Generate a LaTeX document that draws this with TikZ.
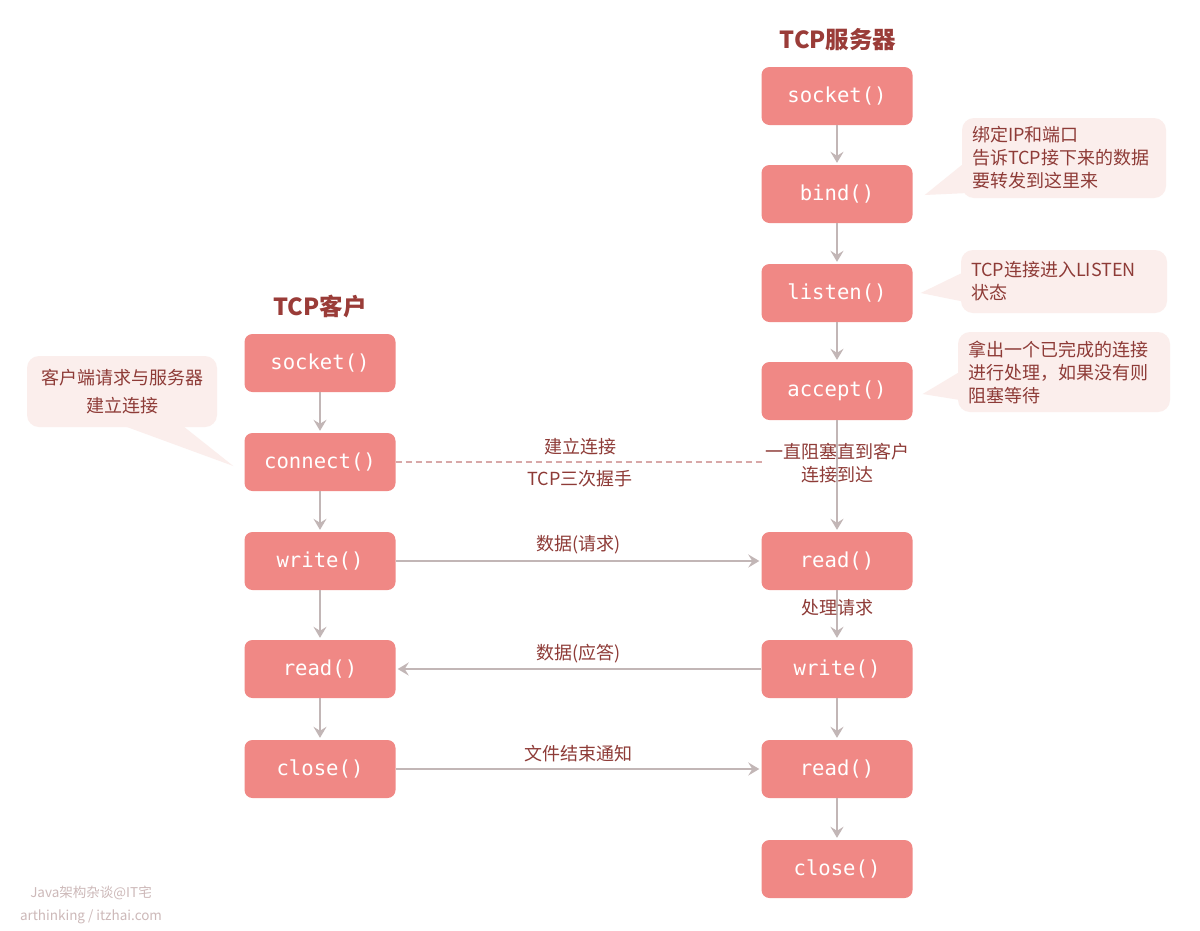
\documentclass[tikz,border=0pt]{standalone}
\usepackage{fontspec}
\setmainfont{Noto Sans CJK SC}
\newfontfamily\codefont{DejaVu Sans Mono}
\usetikzlibrary{arrows.meta,calc}

\definecolor{boxred}{HTML}{F08885}
\definecolor{notebg}{HTML}{FBEEEC}
\definecolor{textred}{HTML}{8E3B37}
\definecolor{titlered}{HTML}{9A3C38}
\definecolor{linegray}{HTML}{C2B6B6}
\definecolor{dashpink}{HTML}{D8A8A8}
\definecolor{markgray}{HTML}{CDB9B9}

\begin{document}
\begin{tikzpicture}[x=1pt,y=-1pt,
  call/.style={fill=boxred, rounded corners=8pt, minimum width=151pt,
    minimum height=58pt, inner sep=0pt, text=white,
    font=\codefont\fontsize{20.6}{24}\selectfont},
  title/.style={text=titlered, inner sep=0pt, font=\bfseries\fontsize{23.5}{26}\selectfont},
  note/.style={fill=notebg, rounded corners=12pt, text=textred, inner ysep=0pt,
    inner xsep=10pt, font=\fontsize{18}{23}\selectfont},
  tag/.style={text=textred, inner sep=0pt, font=\fontsize{18}{23}\selectfont},
  flow/.style={draw=linegray, line width=2pt, shorten >=2pt,
    -{Stealth[length=11pt,width=13pt,inset=4pt]}},
  handshake/.style={draw=dashpink, line width=1.2pt, dash pattern=on 6pt off 4pt},
  brand/.style={text=markgray, inner sep=0pt, font=\fontsize{13.5}{16}\selectfont}]
\useasboundingbox[fill=white] (0,0) rectangle (1200,930);

% titles
\node[title] (stitle) at (838,40) {TCP服务器};
\node[title] (ctitle) at (320,307) {TCP客户};

% server calls
\node[call] (ssocket) at (837,96) {socket()};
\node[call] (sbind) at (837,194) {bind()};
\node[call] (slisten) at (837,293) {listen()};
\node[call] (saccept) at (837,391) {accept()};
\node[call] (sread) at (837,561) {read()};
\node[call] (swrite) at (837,669) {write()};
\node[call] (sreadeof) at (837,769) {read()};
\node[call] (sclose) at (837,869) {close()};

% client calls
\node[call] (csocket) at (320,363) {socket()};
\node[call] (cconnect) at (320,462) {connect()};
\node[call] (cwrite) at (320,561) {write()};
\node[call] (cread) at (320,669) {read()};
\node[call] (cclose) at (320,769) {close()};

% notes
\node[note, text width=184pt, minimum height=80pt, align=left] (bindnote) at (1064,158)
  {绑定IP和端口\\告诉TCP接下来的数据\\要转发到这里来};
\node[note, text width=186pt, minimum height=63pt, align=left] (listennote) at (1064,281.5)
  {TCP连接进入LISTEN\\状态};
\node[note, text width=192pt, minimum height=80pt, align=left] (acceptnote) at (1064,372)
  {拿出一个已完成的连接\\进行处理，如果没有则\\阻塞等待};
\node[note, text width=170pt, minimum height=71pt, align=center, font=\fontsize{18}{28}\selectfont]
  (clientnote) at (122,391.5) {客户端请求与服务器\\建立连接};

\coordinate (bindtip) at ($(sbind.east)+(12,1)$);
\coordinate (listentip) at ($(slisten.east)+(8,0)$);
\coordinate (accepttip) at ($(saccept.east)+(10,3)$);
\coordinate (clienttip) at ($(cconnect.west)+(-11,4)$);
\fill[notebg] ($(bindnote.west)+(0,7)$) -- (bindtip) -- ($(bindnote.west)+(6,35)$) -- cycle;
\fill[notebg] ($(listennote.west)+(0,-8)$) -- (listentip) -- ($(listennote.west)+(2,20)$) -- cycle;
\fill[notebg] ($(acceptnote.west)+(0,1)$) -- (accepttip) -- ($(acceptnote.west)+(2,28)$) -- cycle;
\fill[notebg] ($(clientnote.south)+(0,-2)$) -- (clienttip) -- ($(clientnote.south)+(60,-2)$) -- cycle;

% vertical flow
\foreach \a/\b in {ssocket/sbind, sbind/slisten, slisten/saccept, saccept/sread,
  swrite/sreadeof, sreadeof/sclose, csocket/cconnect, cconnect/cwrite,
  cwrite/cread, cread/cclose}
  \draw[flow] (\a) -- (\b);
\draw[flow] (sread) -- (swrite) node[tag, midway, yshift=7pt] (handle) {处理请求};

\node[tag, align=center] (blocknote) at (837,463) {一直阻塞直到客户\\连接到达};

% messages between client and server
\draw[handshake] (cconnect.east) -- (cconnect.east -| blocknote.west)
  node[tag, midway, above=6pt] (connlabel) {建立连接}
  node[tag, midway, below=8pt] (shakelabel) {TCP三次握手};
\draw[flow] (cwrite) -- (sread) node[tag, midway, above=6pt] (reqlabel) {数据(请求)};
\draw[flow] (swrite) -- (cread) node[tag, midway, above=5pt] (resplabel) {数据(应答)};
\draw[flow] (cclose) -- (sreadeof) node[tag, midway, above=6pt] (eoflabel) {文件结束通知};

% watermark
\node[brand] (brandname) at (91,893) {Java架构杂谈@IT宅};
\node[brand] (brandsite) at (91,917) {arthinking / itzhai.com};
\end{tikzpicture}
\end{document}
